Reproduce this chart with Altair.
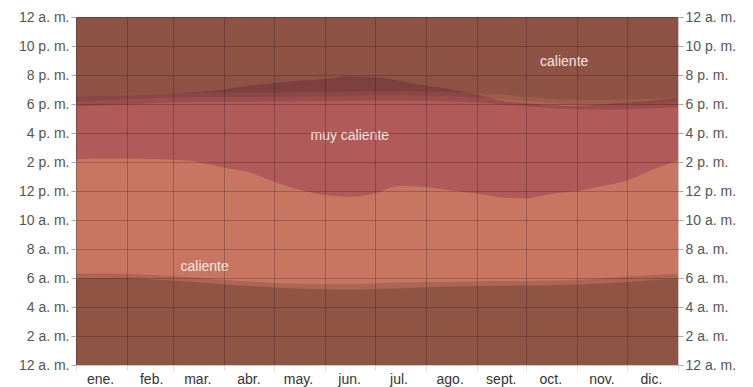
import altair as alt
import pandas as pd

# day of year sample points
days = [0, 15, 31, 45, 59, 74, 90, 105, 120, 135, 151, 166, 181, 196, 212, 227, 243, 258, 273, 288, 304, 319, 334, 349, 365]

# hours (decimal)
sunrise    = [6.30, 6.32, 6.28, 6.22, 6.12, 6.00, 5.86, 5.76, 5.66, 5.60, 5.58, 5.59, 5.64, 5.70, 5.73, 5.75, 5.78, 5.79, 5.80, 5.82, 5.88, 5.97, 6.08, 6.20, 6.30]
dawn_night = [5.97, 6.00, 5.98, 5.92, 5.82, 5.70, 5.55, 5.45, 5.35, 5.28, 5.22, 5.20, 5.25, 5.30, 5.36, 5.41, 5.44, 5.46, 5.48, 5.50, 5.55, 5.62, 5.72, 5.86, 5.97]
sunset     = [17.82, 17.90, 17.98, 18.05, 18.10, 18.13, 18.14, 18.14, 18.15, 18.17, 18.20, 18.22, 18.25, 18.25, 18.22, 18.18, 18.10, 17.98, 17.85, 17.72, 17.64, 17.62, 17.64, 17.70, 17.80]
dusk_civil = [18.15, 18.23, 18.33, 18.40, 18.45, 18.48, 18.49, 18.49, 18.50, 18.52, 18.55, 18.57, 18.60, 18.60, 18.57, 18.53, 18.45, 18.33, 18.20, 18.07, 17.99, 17.97, 17.99, 18.05, 18.14]
dusk_naut  = [18.43, 18.53, 18.63, 18.70, 18.75, 18.78, 18.79, 18.79, 18.80, 18.82, 18.85, 18.87, 18.90, 18.90, 18.87, 18.83, 18.75, 18.63, 18.50, 18.37, 18.29, 18.27, 18.29, 18.35, 18.43]
mc_start   = [14.20, 14.25, 14.25, 14.20, 14.15, 14.00, 13.60, 13.30, 12.65, 12.10, 11.72, 11.60, 11.83, 12.35, 12.28, 12.05, 11.82, 11.56, 11.50, 11.80, 12.00, 12.35, 12.73, 13.45, 14.10]
mc_end     = [18.48, 18.55, 18.60, 18.67, 18.73, 18.85, 19.00, 19.27, 19.45, 19.60, 19.72, 19.90, 19.85, 19.60, 19.27, 19.04, 18.68, 18.22, 18.05, 17.92, 17.85, 17.98, 18.08, 18.22, 18.45]
day_lo     = [0] * len(days)
day_hi     = [24] * len(days)

month_bounds = [0, 31, 59, 90, 120, 151, 181, 212, 243, 273, 304, 334, 365]
month_names = ["ene.", "feb.", "mar.", "abr.", "may.", "jun.", "jul.", "ago.", "sept.", "oct.", "nov.", "dic."]

hour_ticks = list(range(0, 25, 2))
hour_labels = ["12 a. m.", "2 a. m.", "4 a. m.", "6 a. m.", "8 a. m.", "10 a. m.", "12 p. m.",
               "2 p. m.", "4 p. m.", "6 p. m.", "8 p. m.", "10 p. m.", "12 a. m."]

label_text = ["caliente", "muy caliente", "caliente"]
label_day = [296, 166, 78]
label_hr = [20.9, 15.8, 6.75]

CAL = "#c87661"
MUY = "#b05a59"
FONT = "Liberation Sans"

df = pd.DataFrame({
    "day": days, "lo": day_lo, "hi": day_hi,
    "sunrise": sunrise, "dawn_night": dawn_night,
    "sunset": sunset, "dusk_civil": dusk_civil, "dusk_naut": dusk_naut,
    "mc_start": mc_start, "mc_end": mc_end,
})
labels_df = pd.DataFrame({"day": label_day, "hr": label_hr, "label": label_text})

xscale = alt.Scale(domain=[0, 365], nice=False, zero=False)
yscale = alt.Scale(domain=[0, 24], nice=False, zero=False)

names_js = "[" + ",".join(f"'{m}'" for m in month_names) + ",'']"
bounds_js = "[" + ",".join(str(b) for b in month_bounds) + "]"
hours_js = "[" + ",".join(f"'{h}'" for h in hour_labels) + "]"

xaxis = alt.Axis(values=month_bounds, labelExpr=f"{names_js}[indexof({bounds_js}, datum.value)]",
                 grid=True, gridColor="#000000", gridOpacity=0.22, domain=False,
                 tickColor="#dddddd", tickSize=5, labelOffset=24, labelColor="#333333",
                 labelFontSize=14, labelFont=FONT, labelPadding=2, title=None,
                 labelFlush=False, labelOverlap=False, zindex=1)

yaxis_left = alt.Axis(values=hour_ticks, labelExpr=f"{hours_js}[datum.value/2]", orient="left",
                      grid=True, gridColor="#000000", gridOpacity=0.22, domain=False,
                      tickColor="#aaaaaa", tickSize=5, labelColor="#555555", labelFontSize=14,
                      labelFont=FONT, labelPadding=2, title=None, labelFlush=False,
                      labelOverlap=False, zindex=1)
yaxis_right = alt.Axis(values=hour_ticks, labelExpr=f"{hours_js}[datum.value/2]", orient="right",
                       grid=False, domain=False, tickColor="#aaaaaa", tickSize=5,
                       labelColor="#555555", labelFontSize=14, labelFont=FONT, labelPadding=2,
                       title=None, labelFlush=False, labelOverlap=False)

X = alt.X("day:Q", scale=xscale, axis=xaxis)


def band(y, y2, color, opacity=1.0):
    return alt.Chart(df).mark_area(color=color, opacity=opacity, interpolate="monotone").encode(
        x=X, y=alt.Y(f"{y}:Q", scale=yscale, axis=yaxis_left), y2=f"{y2}:Q")


layers = [
    band("lo", "hi", CAL),
    band("mc_start", "mc_end", MUY),
    band("lo", "sunrise", "#000000", 0.13),
    band("lo", "dawn_night", "#000000", 0.17),
    band("sunset", "hi", "#000000", 0.13),
    band("dusk_civil", "hi", "#000000", 0.09),
    band("dusk_naut", "hi", "#000000", 0.09),
    alt.Chart(labels_df).mark_text(font=FONT, fontSize=14, color="#f6e6e2").encode(
        x=X, y=alt.Y("hr:Q", scale=yscale, axis=yaxis_left), text="label:N"),
]

main = alt.layer(*layers)
right = alt.Chart(df).mark_area(opacity=0).encode(
    x=X, y=alt.Y("lo:Q", scale=yscale, axis=yaxis_right), y2="hi:Q")

chart = alt.layer(main, right).resolve_scale(y="independent").properties(
    width=602, height=348,
    padding={"left": 68, "top": 9, "right": 67, "bottom": 26},
    autosize=alt.AutoSizeParams(type="none"),
).configure_view(stroke=None)

chart.save("out.html", embed_options={"renderer": "svg", "actions": False})
